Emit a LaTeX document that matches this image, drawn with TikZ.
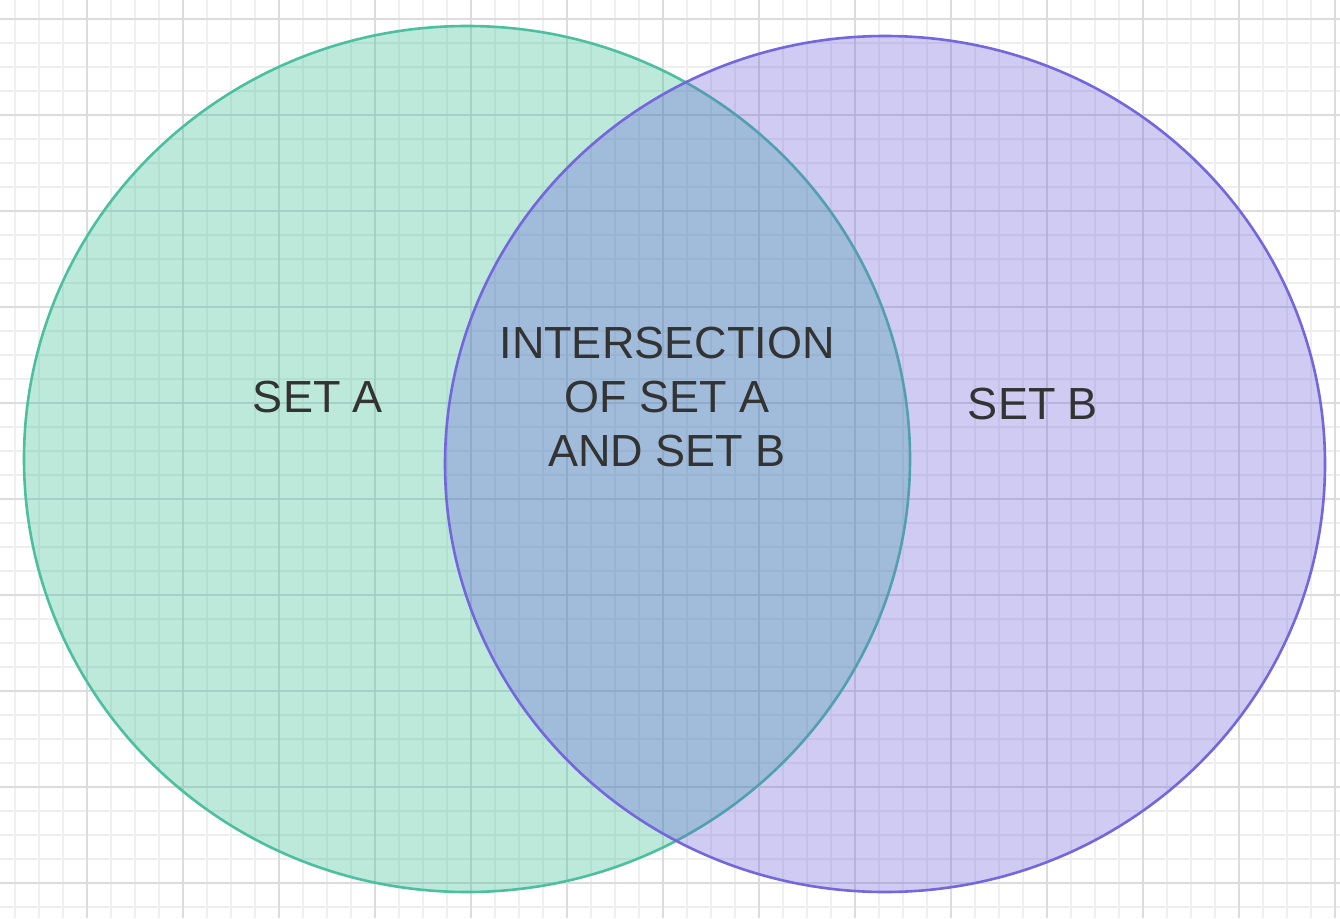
\documentclass[tikz,border=0pt]{standalone}
\usepackage{fontspec}
\setmainfont{Liberation Sans}
\definecolor{gridminor}{HTML}{EFEFEF}
\definecolor{gridmajor}{HTML}{DCDCDC}
\definecolor{fillA}{HTML}{25B98A}
\definecolor{strokeA}{HTML}{4CC09E}
\definecolor{fillB}{HTML}{6255DA}
\definecolor{strokeB}{HTML}{7466DD}
\definecolor{txt}{HTML}{333333}
\tikzset{
  setA/.style={fill=fillA, fill opacity=0.3, draw=strokeA, draw opacity=1, line width=2.6pt},
  setB/.style={fill=fillB, fill opacity=0.3, draw=strokeB, draw opacity=1, line width=2.6pt},
  lbl/.style={text=txt, font=\fontsize{45pt}{54pt}\selectfont, align=center, inner sep=0pt, text opacity=1}
}
\begin{document}
\begin{tikzpicture}[x=1pt,y=-1pt]
\useasboundingbox (0,0) rectangle (1340,918);
\fill[white] (0,0) rectangle (1340,918);
% minor grid
\foreach \i in {0,...,55} {
  \draw[gridminor, line width=1.3pt] ({15+24*\i},0) -- ({15+24*\i},918);
}
\foreach \j in {0,...,37} {
  \draw[gridminor, line width=1.3pt] (0,{19+24*\j}) -- (1340,{19+24*\j});
}
% major grid
\foreach \i in {0,...,13} {
  \draw[gridmajor, line width=1.3pt] ({87+96*\i},0) -- ({87+96*\i},918);
}
\foreach \j in {0,...,9} {
  \draw[gridmajor, line width=1.3pt] (0,{19+96*\j}) -- (1340,{19+96*\j});
}
% sets
\draw[setA] (467,459) ellipse [x radius=443, y radius=433];
\draw[setB] (885,464) ellipse [x radius=440, y radius=428];
% labels
\node[lbl] (a) at (318,397) {SET A};
\node[lbl] (b) at (1033,404) {SET B};
\node[lbl] (ab) at (667,397) {INTERSECTION\\OF SET A\\AND SET B};
\end{tikzpicture}
\end{document}
